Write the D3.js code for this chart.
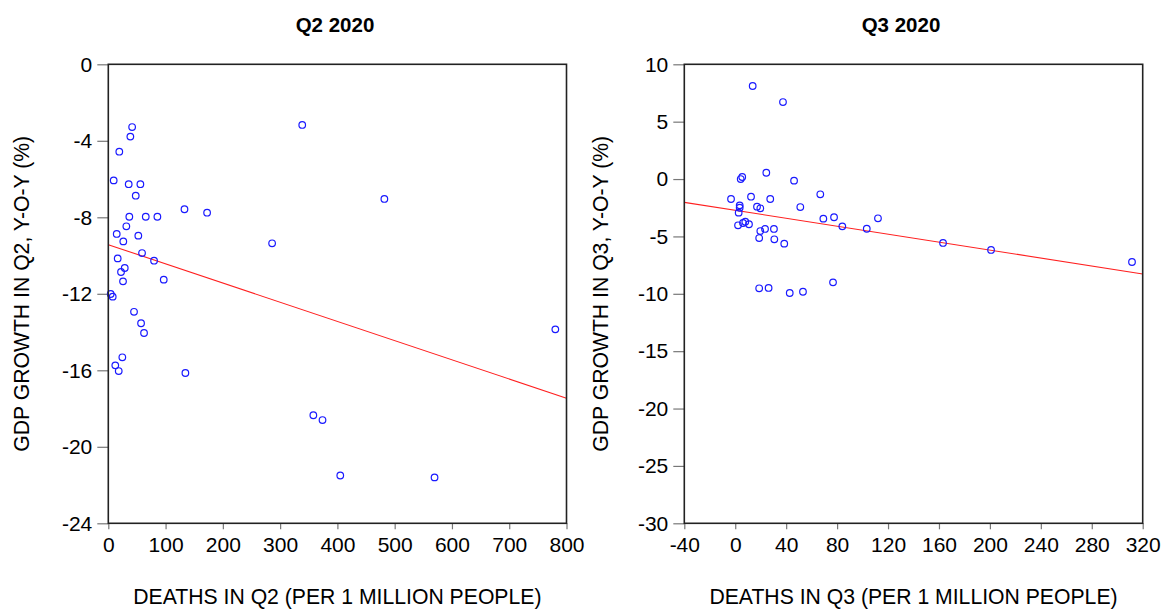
<!DOCTYPE html>
<html>
<head>
<meta charset="utf-8">
<script src="https://cdn.jsdelivr.net/npm/d3@7"></script>
<style>
  html, body { margin: 0; padding: 0; background: #fff; }
  svg text { font-family: "Liberation Sans", Arial, sans-serif; fill: #000; }
</style>
</head>
<body>
<svg id="chart" width="1164" height="609"></svg>
<script>
// ---- Q2 2020 data: deaths per 1M (x) vs GDP growth y-o-y % (y)
const q2Deaths = [338.6, 482, 780.5, 286, 133, 172.5, 134.6, 358, 374, 405, 569.6,
  41.6, 38.5, 19.2, 9.4, 35.6, 56, 47.9, 36.7, 65.4, 85.7, 31.5, 14.7, 52.4,
  26.2, 58.9, 79.9, 16.4, 28.7, 22.2, 25.7, 96.8, 4.2, 7.7, 44.9, 57.2, 62.4,
  24.5, 12.2, 18.2];
const q2Growth = [-3.17, -7.04, -13.86, -9.36, -7.58, -7.76, -16.14, -18.35, -18.6, -21.5, -21.6,
  -3.28, -3.78, -4.57, -6.07, -6.27, -6.27, -6.87, -7.97, -7.97, -7.97, -8.47, -8.87, -8.96,
  -9.26, -9.87, -10.27, -10.15, -10.65, -10.86, -11.35, -11.26, -12.01, -12.15, -12.94, -13.54, -14.05,
  -15.32, -15.74, -16.04];
const q2FitX = [0, 800];
const q2FitY = [-9.43, -17.46];
const q2XTicks = [0, 100, 200, 300, 400, 500, 600, 700, 800];
const q2YTicks = [0, -4, -8, -12, -16, -20, -24];

// ---- Q3 2020 data
const q3Deaths = [13.7, 37.5, 311.6, 200.9, 163.2,
  24.4, 5.5, 4.3, 46.2, -3.3, 12.4, 27.5, 66.8, 3.5, 3.5, 2.7, 17.1, 19.7, 51.1,
  69.2, 77.6, 84.1, 103.3, 112.1, 2.2, 6.1, 7.9, 10.8, 19.7, 23.4, 30.4, 18.8, 30.7,
  38.5, 18.8, 26.2, 42.8, 53.2, 76.8];
const q3Growth = [8.11, 6.71, -7.23, -6.18, -5.57,
  0.55, 0.18, 0.0, -0.14, -1.74, -1.54, -1.74, -1.33, -2.29, -2.5, -2.93, -2.41, -2.55, -2.44,
  -3.45, -3.33, -4.12, -4.33, -3.42, -4.03, -3.83, -3.72, -3.94, -4.53, -4.35, -4.35, -5.14, -5.25,
  -5.63, -9.52, -9.49, -9.93, -9.82, -9.0];
const q3FitX = [-40, 320];
const q3FitY = [-2.03, -8.27];
const q3XTicks = [-40, 0, 40, 80, 120, 160, 200, 240, 280, 320];
const q3YTicks = [10, 5, 0, -5, -10, -15, -20, -25, -30];

const titles = ["Q2 2020", "Q3 2020"];
const xTitles = ["DEATHS IN Q2 (PER 1 MILLION PEOPLE)", "DEATHS IN Q3 (PER 1 MILLION PEOPLE)"];
const yTitles = ["GDP GROWTH IN Q2, Y-O-Y (%)", "GDP GROWTH IN Q3, Y-O-Y (%)"];

const svg = d3.select("#chart");

function panel(cfg) {
  const x = d3.scaleLinear().domain(cfg.xDomain).range([cfg.left, cfg.right]);
  const y = d3.scaleLinear().domain(cfg.yDomain).range([cfg.bottom, cfg.top]);
  const g = svg.append("g");

  const xa = g.append("g").attr("transform", `translate(0,${cfg.bottom})`)
    .call(d3.axisBottom(x).tickValues(cfg.xTicks).tickSize(6).tickPadding(8));
  const ya = g.append("g").attr("transform", `translate(${cfg.left},0)`)
    .call(d3.axisLeft(y).tickValues(cfg.yTicks).tickSize(11).tickPadding(5));
  [xa, ya].forEach(a => {
    a.select(".domain").remove();
    a.selectAll(".tick line").attr("stroke", "#777").attr("stroke-width", 1.2);
    a.selectAll(".tick text").style("font-size", "21px").text(d => String(d));
  });
  xa.selectAll(".tick text").attr("dy", "0.72em");

  const clipId = "clip" + cfg.id;
  svg.append("clipPath").attr("id", clipId).append("rect")
    .attr("x", cfg.left).attr("y", cfg.top)
    .attr("width", cfg.right - cfg.left).attr("height", cfg.bottom - cfg.top);

  const inner = g.append("g").attr("clip-path", `url(#${clipId})`);
  inner.append("line")
    .attr("x1", x(cfg.fitX[0])).attr("y1", y(cfg.fitY[0]))
    .attr("x2", x(cfg.fitX[1])).attr("y2", y(cfg.fitY[1]))
    .attr("stroke", "#ff2020").attr("stroke-width", 1.1);

  g.append("g").selectAll("circle").data(cfg.xs.map((v, i) => [v, cfg.ys[i]]))
    .join("circle")
    .attr("cx", d => x(d[0])).attr("cy", d => y(d[1]))
    .attr("r", 3.3)
    .attr("fill", "none").attr("stroke", "#1a1aff").attr("stroke-width", 1.2);

  g.append("rect").attr("x", cfg.left).attr("y", cfg.top)
    .attr("width", cfg.right - cfg.left).attr("height", cfg.bottom - cfg.top)
    .attr("fill", "none").attr("stroke", "#222").attr("stroke-width", 1.6);

  svg.append("text").attr("x", cfg.titleX).attr("y", 32)
    .attr("text-anchor", "middle").style("font-size", "20.5px").style("font-weight", "bold")
    .text(cfg.title);
  svg.append("text").attr("x", (cfg.left + cfg.right) / 2).attr("y", 604)
    .attr("text-anchor", "middle").style("font-size", "21.2px")
    .text(cfg.xTitle);
  svg.append("text")
    .attr("transform", `translate(${cfg.yTitleX},${(cfg.top + cfg.bottom) / 2}) rotate(-90)`)
    .attr("text-anchor", "middle").style("font-size", "21.2px")
    .text(cfg.yTitle);
}

panel({
  id: 1, left: 108.3, right: 566.5, top: 64.3, bottom: 523.3,
  xDomain: [0, 800], yDomain: [-24, 0],
  xTicks: q2XTicks, yTicks: q2YTicks,
  xs: q2Deaths, ys: q2Growth, fitX: q2FitX, fitY: q2FitY,
  title: titles[0], titleX: 335, xTitle: xTitles[0], yTitle: yTitles[0], yTitleX: 29
});
panel({
  id: 2, left: 684.3, right: 1142.7, top: 64.3, bottom: 523.3,
  xDomain: [-40, 320], yDomain: [-30, 10],
  xTicks: q3XTicks, yTicks: q3YTicks,
  xs: q3Deaths, ys: q3Growth, fitX: q3FitX, fitY: q3FitY,
  title: titles[1], titleX: 901, xTitle: xTitles[1], yTitle: yTitles[1], yTitleX: 608
});
</script>
</body>
</html>
